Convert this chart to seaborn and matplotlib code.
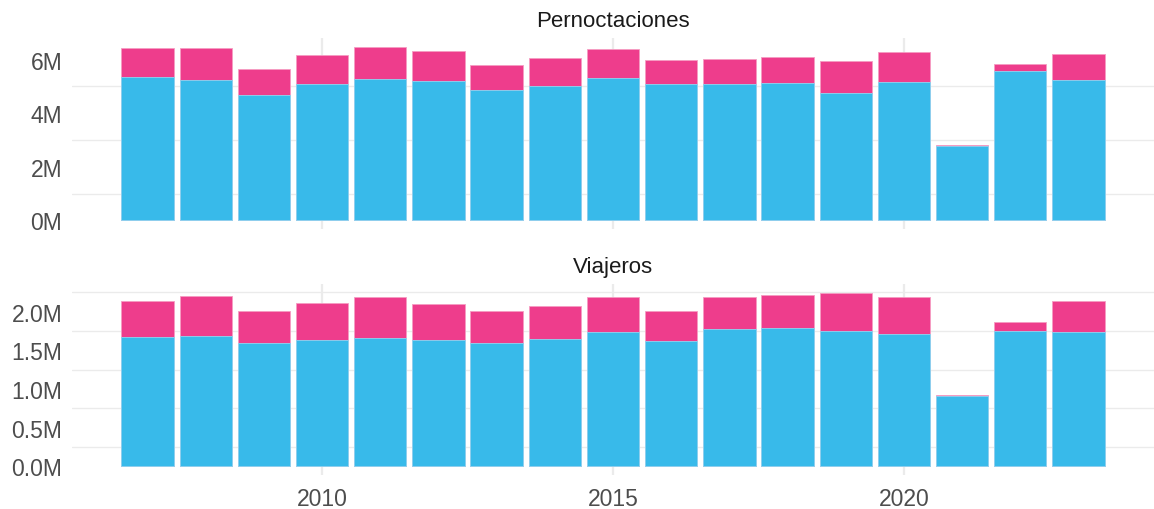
import numpy as np
import pandas as pd
import matplotlib
matplotlib.use("Agg")
import matplotlib.pyplot as plt
from matplotlib.ticker import FuncFormatter, FixedLocator
import seaborn as sns

# ---- data (values in millions) ----
years = list(range(2007, 2024))

pern_blue = [5.35, 5.24, 4.67, 5.10, 5.28, 5.21, 4.87, 5.01, 5.31, 5.07, 5.10, 5.14, 4.77, 5.17, 2.78, 5.58, 5.24]
pern_pink = [1.08, 1.21, 0.97, 1.08, 1.20, 1.11, 0.94, 1.03, 1.07, 0.91, 0.92, 0.94, 1.17, 1.12, 0.03, 0.26, 0.98]

viaj_blue = [1.672, 1.681, 1.591, 1.638, 1.659, 1.638, 1.591, 1.651, 1.733, 1.616, 1.780, 1.789, 1.746, 1.707, 0.914, 1.746, 1.733]
viaj_pink = [0.466, 0.526, 0.422, 0.478, 0.526, 0.465, 0.422, 0.427, 0.452, 0.397, 0.405, 0.431, 0.500, 0.487, 0.008, 0.116, 0.405]

panel_titles = ["Pernoctaciones", "Viajeros"]
x_ticks = [2010, 2015, 2020]

BLUE = "#38BAEA"
PINK = "#EE3D8C"
GRID = "#EBEBEB"

sns.set_theme(style="white")
plt.rcParams["font.family"] = ["Liberation Sans", "DejaVu Sans"]

fig = plt.figure(figsize=(11.54, 5.10), dpi=100)
ax_top = fig.add_axes([0.0624, 0.549, 0.9376, 0.3745])
ax_bot = fig.add_axes([0.0624, 0.0667, 0.9376, 0.3745])

panels = [
    (ax_top, pern_blue, pern_pink, [1, 3, 5], [0, 2, 4, 6], "{:.0f}M"),
    (ax_bot, viaj_blue, viaj_pink, [0.25, 0.75, 1.25, 1.75, 2.25], [0, 0.5, 1.0, 1.5, 2.0], "{:.1f}M"),
]

for (ax, blue, pink, minor_grid, major_ticks, fmt), title in zip(panels, panel_titles):
    df = pd.DataFrame({"year": years,
                       "blue": np.array(blue) * 1e6,
                       "pink": np.array(pink) * 1e6})
    df["total"] = df["blue"] + df["pink"]

    # horizontal (minor) grid lines
    for g in minor_grid:
        ax.axhline(g * 1e6, color=GRID, lw=1.0, zorder=0)
    # vertical grid lines
    for xv in x_ticks:
        ax.axvline(xv, color=GRID, lw=1.6, zorder=0)

    sns.barplot(data=df, x="year", y="total", native_scale=True, width=0.9,
                color=PINK, saturation=1, edgecolor="#F59CC2", linewidth=0.6,
                ax=ax, zorder=2)
    sns.barplot(data=df, x="year", y="blue", native_scale=True, width=0.9,
                color=BLUE, saturation=1, edgecolor="#8ED6F2", linewidth=0.6,
                ax=ax, zorder=3)

    ymax = df["total"].max()
    ax.set_ylim(-0.05 * ymax, ymax * 1.05)
    ax.set_xlim(2005.7, 2024.3)
    ax.yaxis.set_major_locator(FixedLocator([t * 1e6 for t in major_ticks]))
    ax.yaxis.set_major_formatter(FuncFormatter(lambda v, p, f=fmt: f.format(v / 1e6)))
    ax.xaxis.set_major_locator(FixedLocator(x_ticks))
    ax.set_xlabel("")
    ax.set_ylabel("")
    ax.set_title(title, fontsize=16, color="#1A1A1A", pad=8.5)
    ax.tick_params(axis="both", length=0, labelsize=16.5, labelcolor="#4D4D4D")
    ax.tick_params(axis="y", pad=7)
    ax.tick_params(axis="x", pad=9)
    for s in ax.spines.values():
        s.set_visible(False)
    ax.set_facecolor("white")

ax_top.tick_params(axis="x", labelbottom=False)

fig.savefig("out.png", dpi=100)
